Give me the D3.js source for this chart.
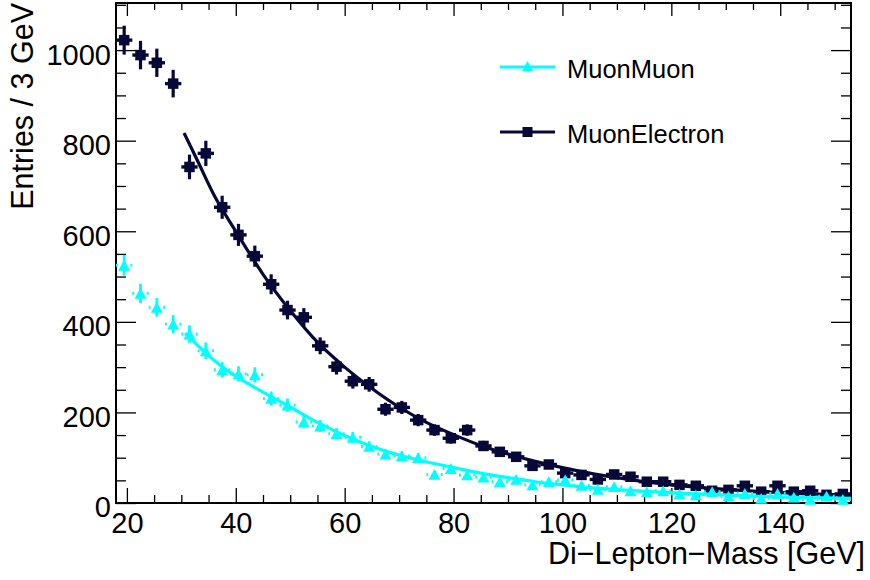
<!DOCTYPE html>
<html>
<head>
<meta charset="utf-8">
<script src="https://cdn.jsdelivr.net/npm/d3@7"></script>
<style>
  body { margin: 0; background: #fff; }
  svg { display: block; }
  text { font-family: "Liberation Sans", Arial, Helvetica, sans-serif; fill: #000; }
</style>
</head>
<body>
<svg id="chart" width="870" height="580"></svg>
<script>
// Di-lepton invariant mass, 3 GeV bins from 18 to 153 GeV (bin centres)
const binCenters = [19.5, 22.5, 25.5, 28.5, 31.5, 34.5, 37.5, 40.5, 43.5, 46.5,
  49.5, 52.5, 55.5, 58.5, 61.5, 64.5, 67.5, 70.5, 73.5, 76.5,
  79.5, 82.5, 85.5, 88.5, 91.5, 94.5, 97.5, 100.5, 103.5, 106.5,
  109.5, 112.5, 115.5, 118.5, 121.5, 124.5, 127.5, 130.5, 133.5, 136.5,
  139.5, 142.5, 145.5, 148.5, 151.5];
const binWidth = 3;

// Entries per bin
const muonMuon = [525, 463, 432, 395, 373, 336, 294, 285, 283, 231,
  216, 179, 170, 153, 145, 125, 108, 104, 100, 63,
  76, 62, 57, 47, 52, 40, 47, 51, 39, 30,
  36, 27, 25, 27, 20, 18, 25, 15, 21, 10,
  21, 13, 8, 15, 8];
const muonElectron = [1022, 989, 972, 926, 742, 772, 653, 592, 545, 483,
  426, 410, 347, 301, 269, 262, 207, 211, 183, 161,
  143, 161, 126, 113, 102, 82, 85, 66, 62, 52,
  63, 58, 47, 47, 40, 38, 27, 29, 38, 25,
  38, 25, 27, 18, 20];

// Fitted curves, sampled along the fit range
const fitMassMuMu = [30.7, 33, 36, 40, 45, 50, 55, 60, 65, 70, 75, 80, 85, 90, 95, 100, 106, 115, 125, 135, 145, 153];
const fitMuMu     = [375, 348, 315, 280, 245, 212, 178, 149, 125, 106, 91, 78, 66, 56, 47, 40, 33, 26, 20, 15, 12, 10];
const fitMassMuE  = [30.5, 33, 36, 40, 45, 50, 55, 60, 65, 70, 75, 80, 85, 90, 95, 100, 105, 110, 115, 120, 130, 140, 153];
const fitMuE      = [817, 755, 680, 600, 505, 425, 355, 300, 253, 212, 178, 151, 127, 108, 92, 78, 66, 56, 47, 40, 30, 23, 17];

const xMajorTicks = [20, 40, 60, 80, 100, 120, 140];
const yMajorTicks = [0, 200, 400, 600, 800, 1000];
const legendLabels = ["MuonMuon", "MuonElectron"];

const colMuMu = "#00ffff";
const colMuE = "#080838";

const svg = d3.select("#chart");
const frame = { left: 116, right: 851, top: 3, bottom: 503 };

const x = d3.scaleLinear().domain([18, 153]).range([frame.left, frame.right]);
const y = d3.scaleLinear().domain([0, 1104]).range([frame.bottom, frame.top]);

const xMinor = d3.range(20, 151, 5).filter(v => !xMajorTicks.includes(v));
const yMinor = d3.range(0, 1101, 50).filter(v => !yMajorTicks.includes(v));

// ---- axes (ticks drawn inside the frame, mirrored on top/right) ----
const axes = svg.append("g").attr("class", "axes");

function styleAxis(g) {
  g.select(".domain").remove();
  g.selectAll(".tick line").attr("stroke", "#000").attr("stroke-width", 1.3);
}

// bottom
axes.append("g").attr("transform", `translate(0,${frame.bottom})`)
  .call(d3.axisBottom(x).tickValues(xMajorTicks).tickSize(-15).tickPadding(9).tickFormat(d3.format("d")))
  .call(styleAxis)
  .call(g => g.selectAll("text").attr("font-size", 29));
axes.append("g").attr("transform", `translate(0,${frame.bottom})`)
  .call(d3.axisBottom(x).tickValues(xMinor).tickSize(-8).tickFormat(""))
  .call(styleAxis);
// top
axes.append("g").attr("transform", `translate(0,${frame.top})`)
  .call(d3.axisTop(x).tickValues(xMajorTicks).tickSize(-13).tickFormat(""))
  .call(styleAxis);
axes.append("g").attr("transform", `translate(0,${frame.top})`)
  .call(d3.axisTop(x).tickValues(xMinor).tickSize(-7).tickFormat(""))
  .call(styleAxis);
// left
axes.append("g").attr("transform", `translate(${frame.left},0)`)
  .call(d3.axisLeft(y).tickValues(yMajorTicks).tickSize(-20).tickPadding(5).tickFormat(d3.format("d")))
  .call(styleAxis)
  .call(g => g.selectAll("text").attr("font-size", 29).attr("dy", "0.48em"));
axes.append("g").attr("transform", `translate(${frame.left},0)`)
  .call(d3.axisLeft(y).tickValues(yMinor).tickSize(-10).tickFormat(""))
  .call(styleAxis);
// right
axes.append("g").attr("transform", `translate(${frame.right},0)`)
  .call(d3.axisRight(y).tickValues(yMajorTicks).tickSize(-20).tickFormat(""))
  .call(styleAxis);
axes.append("g").attr("transform", `translate(${frame.right},0)`)
  .call(d3.axisRight(y).tickValues(yMinor).tickSize(-10).tickFormat(""))
  .call(styleAxis);

// frame
svg.append("rect")
  .attr("x", frame.left).attr("y", frame.top)
  .attr("width", frame.right - frame.left).attr("height", frame.bottom - frame.top)
  .attr("fill", "none").attr("stroke", "#000").attr("stroke-width", 2);

// axis titles
svg.append("text")
  .attr("x", 865).attr("y", 564)
  .attr("text-anchor", "end").attr("font-size", 30.5)
  .text("Di\u2212Lepton\u2212Mass [GeV]");
svg.append("text")
  .attr("transform", `translate(33,${frame.top}) rotate(-90)`)
  .attr("text-anchor", "end").attr("font-size", 30.5)
  .text("Entries / 3 GeV");

// ---- data ----
const plot = svg.append("g");
const halfBin = Math.abs(x(binWidth) - x(0)) / 2;

function fitLine(g, masses, values, color) {
  const line = d3.line()
    .x((d, i) => x(masses[i]))
    .y(d => y(d))
    .curve(d3.curveMonotoneX);
  g.append("path").datum(values)
    .attr("d", line)
    .attr("fill", "none").attr("stroke", color).attr("stroke-width", 3.2)
    .attr("stroke-linecap", "butt");
}

function trianglePath(cx, cy, s) {
  const h = s * 0.9;
  return `M${cx},${cy - h / 2}L${cx + s / 2},${cy + h / 2}L${cx - s / 2},${cy + h / 2}Z`;
}

// MuonElectron histogram: squares with full error crosses
const gE = plot.append("g");
const ptsE = binCenters.map((m, i) => ({ m, v: muonElectron[i] }));
const ge = gE.selectAll("g").data(ptsE).join("g");
ge.append("line")
  .attr("x1", d => x(d.m) - halfBin).attr("x2", d => x(d.m) + halfBin)
  .attr("y1", d => y(d.v)).attr("y2", d => y(d.v))
  .attr("stroke", colMuE).attr("stroke-width", 3.4);
ge.append("line")
  .attr("x1", d => x(d.m)).attr("x2", d => x(d.m))
  .attr("y1", d => y(d.v + Math.sqrt(d.v))).attr("y2", d => y(Math.max(0, d.v - Math.sqrt(d.v))))
  .attr("stroke", colMuE).attr("stroke-width", 3.2);
ge.append("rect")
  .attr("x", d => x(d.m) - 5.25).attr("y", d => y(d.v) - 5.25)
  .attr("width", 10.5).attr("height", 10.5).attr("fill", colMuE);
fitLine(plot, fitMassMuE, fitMuE, colMuE);

// MuonMuon histogram: triangles, horizontal errors shown outside the marker
const gM = plot.append("g");
const ptsM = binCenters.map((m, i) => ({ m, v: muonMuon[i] }));
const gm = gM.selectAll("g").data(ptsM).join("g");
[-1, 1].forEach(side => {
  gm.append("line")
    .attr("x1", d => x(d.m) + side * 6.3).attr("x2", d => x(d.m) + side * halfBin)
    .attr("y1", d => y(d.v)).attr("y2", d => y(d.v))
    .attr("stroke", colMuMu).attr("stroke-width", 3);
});
gm.append("line")
  .attr("x1", d => x(d.m)).attr("x2", d => x(d.m))
  .attr("y1", d => y(d.v + Math.sqrt(d.v))).attr("y2", d => y(Math.max(0, d.v - Math.sqrt(d.v))))
  .attr("stroke", colMuMu).attr("stroke-width", 2.8);
gm.append("path")
  .attr("d", d => trianglePath(x(d.m), y(d.v), 12))
  .attr("fill", colMuMu);
fitLine(plot, fitMassMuMu, fitMuMu, colMuMu);

// ---- legend ----
const legend = svg.append("g");
const legendRows = [
  { label: legendLabels[0], color: colMuMu, y: 67, marker: "tri" },
  { label: legendLabels[1], color: colMuE, y: 132, marker: "sq" }
];
legendRows.forEach(r => {
  legend.append("line").attr("x1", 500).attr("x2", 555).attr("y1", r.y).attr("y2", r.y)
    .attr("stroke", r.color).attr("stroke-width", 3);
  if (r.marker === "tri") {
    legend.append("path").attr("d", trianglePath(527.5, r.y - 1, 11)).attr("fill", r.color);
  } else {
    legend.append("rect").attr("x", 522.5).attr("y", r.y - 5).attr("width", 10).attr("height", 10).attr("fill", r.color);
  }
  legend.append("text").attr("x", 567).attr("y", r.y + 11)
    .attr("font-size", 25.5).text(r.label);
});
</script>
</body>
</html>
